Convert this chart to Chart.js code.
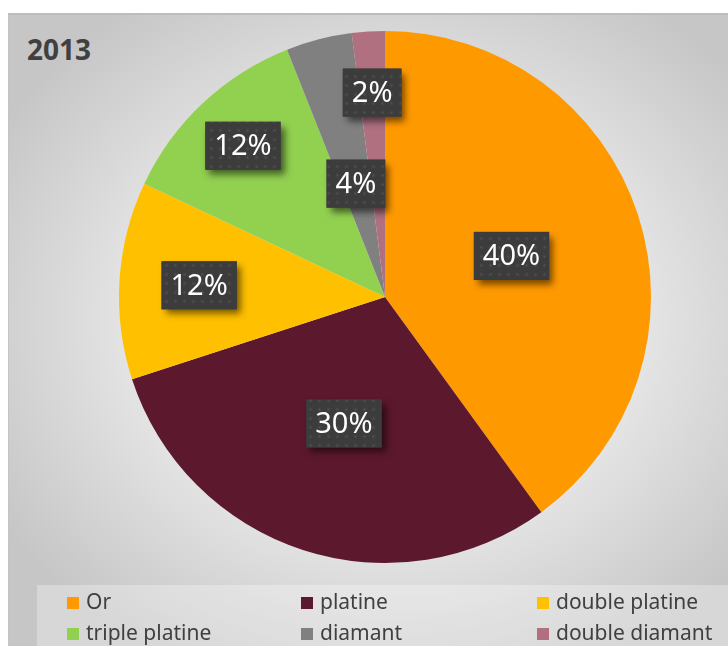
<!DOCTYPE html>
<html>
<head>
<meta charset="utf-8">
<script src="https://cdn.jsdelivr.net/npm/chart.js@4.4.1/dist/chart.umd.min.js"></script>
<style>
  html, body { margin: 0; padding: 0; background: #fff; }
  body { width: 728px; height: 646px; position: relative; overflow: hidden; font-family: "Noto Sans", sans-serif; }
  #frame {
    position: absolute; left: 8px; top: 13px; width: 730px; height: 640px;
    border-top: 2px solid #bdbdbd; border-left: 1px solid #c4c4c4;
    background: radial-gradient(ellipse 62% 60% at 52% 48%, #f1f1f1 0%, #e9e9e9 50%, #c6c6c6 100%);
  }
  #title { position: absolute; left: 27px; top: 30px; font-size: 28px; font-weight: bold; color: #404040; }
  #pie { position: absolute; left: 0; top: 0; width: 728px; height: 646px; }
  #legend {
    position: absolute; left: 37px; top: 585px; width: 700px; height: 70px;
    background: rgba(255,255,255,0.3);
  }
  .item { position: absolute; font-size: 21px; color: #404040; line-height: 24px; white-space: nowrap; }
  .item span { display: inline-block; width: 12px; height: 12px; margin-right: 7px; vertical-align: 0px; }
</style>
</head>
<body>
<div id="frame"></div>
<div id="title">2013</div>
<canvas id="pie" width="728" height="646"></canvas>
<div id="legend"></div>
<script>
// données 2013
const categories = ["Or", "platine", "double platine", "triple platine", "diamant", "double diamant"];
const percentages = [40, 30, 12, 12, 4, 2];
const colors = ["#FF9900", "#5C182C", "#FFC000", "#92D050", "#808080", "#B07080"];

// distance du centre des étiquettes (fraction du rayon)
const labelRadius = [0.5, 0.5, 0.7, 0.78, 0.44, 0.77];

function makePattern(ctx) {
  const c = document.createElement("canvas");
  c.width = 9; c.height = 9;
  const p = c.getContext("2d");
  p.fillStyle = "#3c3c3c";
  p.fillRect(0, 0, 9, 9);
  const g = p.createRadialGradient(4.5, 4.5, 0, 4.5, 4.5, 3);
  g.addColorStop(0, "#525252");
  g.addColorStop(1, "rgba(60,60,60,0)");
  p.fillStyle = g;
  p.fillRect(0, 0, 9, 9);
  return ctx.createPattern(c, "repeat");
}

const boxLabels = {
  id: "boxLabels",
  afterDatasetsDraw(chart) {
    const ctx = chart.ctx;
    const meta = chart.getDatasetMeta(0);
    const pattern = makePattern(ctx);
    ctx.save();
    ctx.font = "29px 'Noto Sans'";
    ctx.textAlign = "center";
    ctx.textBaseline = "middle";
    meta.data.forEach((arc, i) => {
      const p = arc.getProps(["x", "y", "startAngle", "endAngle", "outerRadius"], true);
      const mid = (p.startAngle + p.endAngle) / 2;
      const r = p.outerRadius * labelRadius[i];
      const cx = p.x + Math.cos(mid) * r;
      const cy = p.y + Math.sin(mid) * r;
      const text = percentages[i] + "%";
      const w = ctx.measureText(text).width + 18;
      const h = 48;
      ctx.save();
      ctx.shadowColor = "rgba(0,0,0,0.55)";
      ctx.shadowBlur = 7;
      ctx.shadowOffsetX = 4;
      ctx.shadowOffsetY = 5;
      ctx.fillStyle = "#3c3c3c";
      ctx.fillRect(cx - w / 2, cy - h / 2, w, h);
      ctx.restore();
      ctx.fillStyle = pattern;
      ctx.fillRect(cx - w / 2, cy - h / 2, w, h);
      ctx.fillStyle = "#ffffff";
      ctx.fillText(text, cx, cy + 1);
    });
    ctx.restore();
  }
};

new Chart(document.getElementById("pie"), {
  type: "pie",
  data: {
    labels: categories,
    datasets: [{
      data: percentages,
      backgroundColor: colors,
      borderWidth: 0,
      hoverOffset: 0
    }]
  },
  options: {
    responsive: false,
    devicePixelRatio: 1,
    animation: false,
    layout: { padding: { left: 119, right: 77, top: 31, bottom: 83 } },
    plugins: {
      legend: { display: false },
      tooltip: { enabled: false }
    }
  },
  plugins: [boxLabels]
});

// LEGENDE
const legend = document.getElementById("legend");
const colX = [30, 264, 500];
const rowY = [4, 35];
categories.forEach((name, i) => {
  const d = document.createElement("div");
  d.className = "item";
  d.style.left = colX[i % 3] + "px";
  d.style.top = rowY[Math.floor(i / 3)] + "px";
  d.innerHTML = '<span style="background:' + colors[i] + '"></span>' + name;
  legend.appendChild(d);
});
</script>
</body>
</html>
